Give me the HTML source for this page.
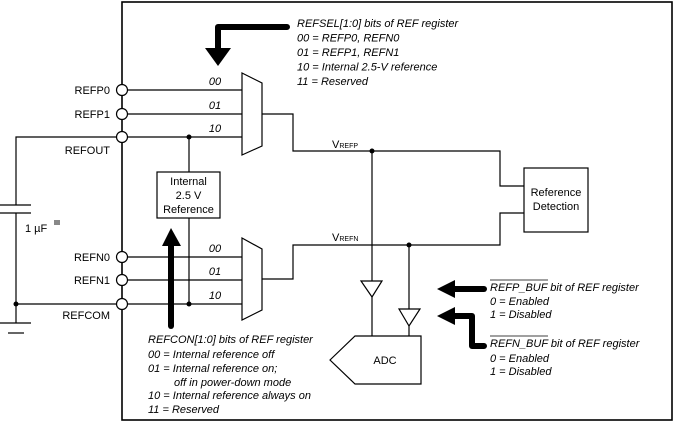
<!DOCTYPE html>
<html><head><meta charset="utf-8"><style>
html,body{margin:0;padding:0;background:#fff}
svg{display:block;font-family:"Liberation Sans",Arial,sans-serif}
.i{font-style:italic;font-size:11px}
.n{font-size:11px}
</style></head><body>
<svg width="675" height="423" viewBox="0 0 675 423" xmlns="http://www.w3.org/2000/svg">
<g fill="none" stroke="#000" stroke-width="1.2">
<rect x="122" y="2" width="550" height="418" stroke-width="1.6"/>
<!-- inputs top -->
<line x1="127" y1="90" x2="242" y2="90"/>
<line x1="127" y1="114" x2="242" y2="114"/>
<line x1="127" y1="137" x2="242" y2="137"/>
<polygon points="242,73 262,83 262,146 242,155" fill="#fff"/>
<polyline points="262,114 293,114 293,151 500,151 500,186 524,186"/>
<!-- bottom -->
<line x1="127" y1="257" x2="242" y2="257"/>
<line x1="127" y1="280" x2="242" y2="280"/>
<line x1="127" y1="304" x2="242" y2="304"/>
<polygon points="242,238 262,249 262,310 242,320" fill="#fff"/>
<polyline points="262,279 293,279 293,245 500,245 500,213 524,213"/>
<rect x="524" y="168" width="64" height="64"/>
<!-- internal ref -->
<line x1="189" y1="137" x2="189" y2="172"/>
<rect x="157" y="172" width="63" height="46"/>
<line x1="189" y1="218" x2="189" y2="304"/>
<!-- cap -->
<polyline points="117,137 16,137 16,205"/>
<line x1="0" y1="205" x2="31" y2="205"/>
<line x1="0" y1="213" x2="31" y2="213"/>
<polyline points="16,213 16,323"/>
<line x1="16" y1="304" x2="117" y2="304"/>
<line x1="0" y1="323" x2="31" y2="323"/>
<line x1="8" y1="333" x2="24" y2="333"/>
<!-- buffers -->
<line x1="372" y1="151" x2="372" y2="281"/>
<polygon points="361,281 382,281 372,297"/>
<line x1="372" y1="297" x2="372" y2="336"/>
<line x1="409" y1="245" x2="409" y2="309"/>
<polygon points="399,309 420,309 409,326"/>
<line x1="409" y1="326" x2="409" y2="336"/>
<polygon points="330,360 355,336 421,336 421,384 355,384"/>
</g>
<g fill="#fff" stroke="#000" stroke-width="1.2">
<circle cx="122" cy="90" r="5.5"/><circle cx="122" cy="114" r="5.5"/><circle cx="122" cy="137" r="5.5"/>
<circle cx="122" cy="257" r="5.5"/><circle cx="122" cy="280" r="5.5"/><circle cx="122" cy="304" r="5.5"/>
</g>
<g fill="#000">
<circle cx="189" cy="137" r="2.5"/><circle cx="189" cy="304" r="2.5"/><circle cx="16" cy="304" r="2.5"/>
<circle cx="372" cy="151" r="2.5"/><circle cx="409" cy="245" r="2.5"/>
</g>
<!-- thick arrows -->
<g fill="none" stroke="#000" stroke-width="6" stroke-linecap="round" stroke-linejoin="round">
<polyline points="287,27 218,27 218,50"/>
<line x1="171" y1="326" x2="171" y2="244"/>
<line x1="484" y1="289" x2="452" y2="289"/>
<polyline points="484,346 472,346 472,316 452,316"/>
</g>
<g fill="#000">
<polygon points="205,48 231,48 218,66"/>
<polygon points="162,246 181,246 171,228"/>
<polygon points="455,280 455,298 437,289"/>
<polygon points="455,307 455,325 437,316"/>
</g>
<!-- labels -->
<g class="n" text-anchor="end">
<text x="110" y="94">REFP0</text><text x="110" y="118">REFP1</text><text x="110" y="154">REFOUT</text>
<text x="110" y="261">REFN0</text><text x="110" y="284">REFN1</text><text x="110" y="319">REFCOM</text>
</g>
<g class="i" text-anchor="middle">
<text x="215" y="85">00</text><text x="215" y="109">01</text><text x="215" y="132">10</text>
<text x="215" y="252">00</text><text x="215" y="275">01</text><text x="215" y="299">10</text>
</g>
<g class="n" text-anchor="middle">
<text x="188.5" y="185">Internal</text><text x="188.5" y="199">2.5 V</text><text x="188.5" y="213">Reference</text>
<text x="556" y="196">Reference</text><text x="556" y="210">Detection</text>
<text x="385" y="364">ADC</text>
</g>
<text x="332" y="148" class="n">V<tspan font-size="7">REFP</tspan></text>
<text x="332" y="241" class="n">V<tspan font-size="7">REFN</tspan></text>
<text x="25" y="232" class="n">1 µF</text>
<rect x="54" y="220" width="6" height="5" fill="#888"/>
<g class="i">
<text x="297" y="27">REFSEL[1:0] bits of REF register</text>
<text x="297" y="41.5">00 = REFP0, REFN0</text>
<text x="297" y="56">01 = REFP1, REFN1</text>
<text x="297" y="70.5">10 = Internal 2.5-V reference</text>
<text x="297" y="85">11 = Reserved</text>
<text x="148" y="343">REFCON[1:0] bits of REF register</text>
<text x="148" y="358">00 = Internal reference off</text>
<text x="148" y="372">01 = Internal reference on;</text>
<text x="174" y="386">off in power-down mode</text>
<text x="148" y="399">10 = Internal reference always on</text>
<text x="148" y="413">11 = Reserved</text>
<text x="490" y="291">REFP_BUF bit of REF register</text>
<text x="490" y="305">0 = Enabled</text>
<text x="490" y="318">1 = Disabled</text>
<text x="490" y="347">REFN_BUF bit of REF register</text>
<text x="490" y="362">0 = Enabled</text>
<text x="490" y="375">1 = Disabled</text>
</g>
<line x1="490" y1="280" x2="548" y2="280" stroke="#000" stroke-width="0.8"/>
<line x1="490" y1="336" x2="548" y2="336" stroke="#000" stroke-width="0.8"/>
</svg>
</body></html>
